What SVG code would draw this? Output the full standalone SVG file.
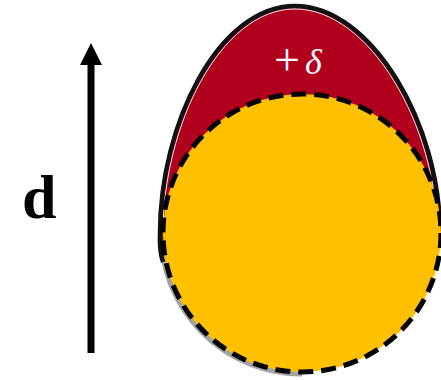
<svg xmlns="http://www.w3.org/2000/svg" width="441" height="380" viewBox="0 0 441 380">
<style>
.eggfill{fill:#B0001E}
.eggline{fill:none;stroke:#111;stroke-width:4.5}
.shadow{fill:none;stroke:#333;stroke-width:7;opacity:0.45}
.inner{fill:none;stroke:#e6e6e6;stroke-width:1}
.circ{fill:#FFC000;stroke:#000;stroke-width:5;stroke-dasharray:15 8}
.lbl{font-family:"Liberation Serif",serif;fill:#fff}
</style>
<defs>
<marker id="ah" markerWidth="24" markerHeight="22" refX="0" refY="11" orient="auto" markerUnits="userSpaceOnUse">
<path d="M0,0 L22,11 L0,22 Z" fill="#000"/>
</marker>
</defs>
<g id="connectors">
<line x1="91" y1="353" x2="91" y2="65" stroke="#000" stroke-width="7" marker-end="url(#ah)"/>
</g>
<g id="egg">
<path class="eggfill" d="M162,240 L161,233 C161,125 218,7 295,7 C372,7 441,125 441,233 L441,240 Z"/>
<path class="shadow" d="M162,233 A140,140 0 0 0 302,373"/>
<path class="eggline" d="M163,262 C159,250 160,241 160,233 C160,125 218,6 295,6 C372,6 440,125 440,233"/>
<path class="inner" d="M163,233 C163,127 220,9 295,9 C370,9 437,127 437,233"/>
</g>
<g id="circle">
<circle class="circ" cx="302" cy="233" r="139"/>
</g>
<g id="label-delta">
<text class="lbl" x="274" y="75" font-size="46">+</text>
<text class="lbl" x="305" y="74" font-size="36" font-style="italic">δ</text>
</g>
<g id="label-d">
<text x="22" y="218" font-family="Liberation Serif,serif" font-weight="bold" font-size="62" fill="#000">d</text>
</g>
</svg>
